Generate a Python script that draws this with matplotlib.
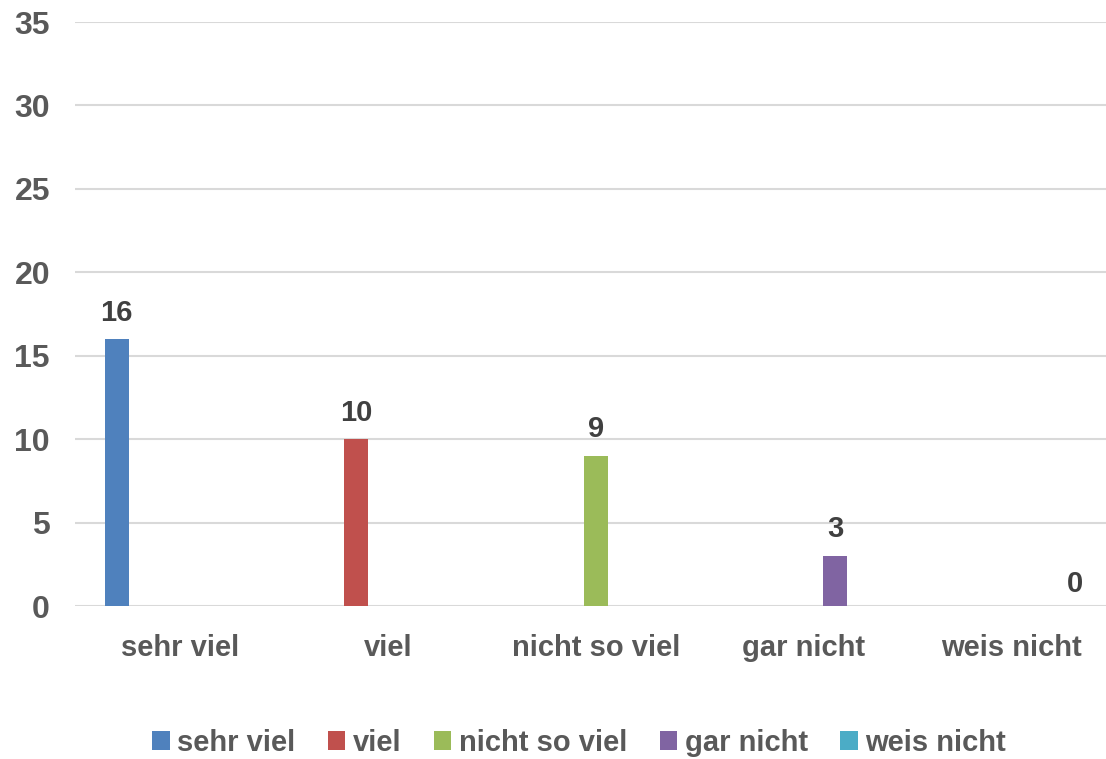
import matplotlib.pyplot as plt
import numpy as np

# Kategorien und Werte
categories = ['sehr viel', 'viel', 'nicht so viel', 'gar nicht', 'weis nicht']
values = [16, 10, 9, 3, 0]
colors = ['#4F81BD', '#C0504D', '#9BBB59', '#8064A2', '#4BACC6']

plt.rcParams['font.family'] = ['Liberation Sans', 'DejaVu Sans']
plt.rcParams['font.weight'] = 'bold'

fig = plt.figure(figsize=(11.06, 7.59), dpi=100)
ax = fig.add_axes([75 / 1106, 1 - 606 / 759, 1 - 75 / 1106, (606 - 22) / 759])

x = np.arange(len(categories))
slot = 0.153
bar_width = 0.116

# jede Serie hat nur in ihrer eigenen Kategorie einen Wert
for i, (cat, val, col) in enumerate(zip(categories, values, colors)):
    series = [val if j == i else 0 for j in range(len(categories))]
    pos = x + (i - 2) * slot
    ax.bar(pos, series, bar_width, color=col, label=cat, zorder=3)
    ax.annotate(str(val), (pos[i], val), xytext=(0, 9 if val > 0 else 6),
                textcoords='offset points', ha='center', va='bottom',
                fontsize=21, color='#404040', fontweight='bold')

ax.set_ylim(0, 35)
ax.set_xlim(-0.507, 4.456)
ax.set_yticks(range(0, 36, 5))
ax.set_xticks(x)
ax.set_xticklabels(categories)
ax.tick_params(axis='both', length=0, labelsize=21, labelcolor='#595959')
ax.tick_params(axis='y', labelsize=23, pad=18)
ax.tick_params(axis='x', pad=20)
ax.grid(axis='y', color='#D9D9D9', linewidth=1.5, zorder=0)
for s in ax.spines.values():
    s.set_visible(False)

fig.legend(loc='center', bbox_to_anchor=(579 / 1106, 1 - 743 / 759), ncol=5,
           frameon=False, fontsize=21, labelcolor='#595959',
           handlelength=0.6, handleheight=0.6, handletextpad=0.25,
           columnspacing=1.12)

fig.savefig('out.png', dpi=100)
